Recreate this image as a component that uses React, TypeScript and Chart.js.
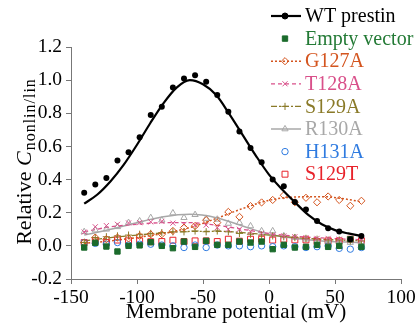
import React, { useEffect, useRef } from "react";
import { Chart, registerables } from "chart.js";
import { drawPoint } from "chart.js/helpers";

Chart.register(...registerables);

// ---------------- DATA ----------------
const voltages = [
  -140, -131.6, -123.2, -114.8, -106.4, -98, -89.6, -81.2, -72.8, -64.4, -56,
  -47.6, -39.2, -30.8, -22.4, -14, -5.6, 2.8, 11.2, 19.6, 28, 36.4, 44.8, 53.2,
  61.6, 70,
];

const wtPrestin = [
  0.32, 0.37, 0.41, 0.515, 0.565, 0.655, 0.79, 0.84, 0.955, 1.01, 1.03, 0.99,
  0.91, 0.81, 0.69, 0.59, 0.505, 0.4, 0.36, 0.265, 0.22, 0.15, 0.107, 0.087,
  0.04, 0.06,
];
const emptyVector = [
  -0.01, 0.018, -0.004, -0.034, 0.0, 0.003, 0.022, 0.0, -0.014, 0.026, -0.006,
  0.03, 0.006, 0.006, 0.026, 0.02, 0.026, -0.02, 0.006, -0.01, -0.006, 0.006,
  -0.006, 0.0, 0.04, -0.006,
];
const g127a = [
  0.02, 0.05, 0.04, 0.05, 0.045, 0.06, 0.07, 0.07, 0.09, 0.11, 0.12, 0.155,
  0.14, 0.205, 0.175, 0.24, 0.262, 0.277, 0.305, 0.263, 0.29, 0.263, 0.298,
  0.277, 0.242, 0.272,
];
const t128a = [
  0.083, 0.115, 0.122, 0.13, 0.138, 0.14, 0.145, 0.148, 0.137, 0.13, 0.125,
  0.125, 0.11, 0.1, 0.1, 0.085, 0.075, 0.065, 0.06, 0.055, 0.05, 0.045, 0.045,
  0.04, 0.04, 0.035,
];
const s129a = [
  0.02, 0.05, 0.055, 0.06, 0.065, 0.07, 0.075, 0.08, 0.085, 0.085, 0.09, 0.085,
  0.09, 0.085, 0.075, 0.07, 0.065, 0.06, 0.055, 0.05, 0.045, 0.04, 0.035, 0.035,
  0.03, 0.03,
];
const r130a = [
  0.085, 0.095, 0.1, 0.115, 0.14, 0.15, 0.17, 0.155, 0.198, 0.17, 0.188, 0.165,
  0.16, 0.135, 0.14, 0.12, 0.09, 0.09, 0.06, 0.05, 0.04, 0.03, 0.03, 0.025,
  0.02, 0.025,
];
const h131a = [
  0.02, 0.015, 0.01, 0.02, 0.005, 0.01, 0.01, 0.005, 0.0, -0.01, 0.005, -0.01,
  0.005, 0.0, 0.0, -0.005, 0.0, -0.005, 0.0, -0.005, -0.01, -0.005, 0.0,
  -0.015, -0.02, -0.01,
];
const s129t = [
  0.02, 0.03, 0.02, 0.035, 0.03, 0.03, 0.025, 0.026, 0.034, 0.026, 0.03, 0.03,
  0.026, 0.04, 0.028, 0.04, 0.04, 0.035, 0.04, 0.036, 0.036, 0.026, 0.03, 0.03,
  0.04, 0.03,
];

// fitted curves
const wtFitVoltages = [
  -140, -130, -120, -110, -100, -90, -80, -70, -60, -50, -40, -30, -20, -10, 0,
  10, 20, 30, 40, 50, 60, 70,
];
const wtFit = [
  0.255, 0.31, 0.39, 0.49, 0.61, 0.74, 0.86, 0.955, 1.0, 0.975, 0.91, 0.795,
  0.67, 0.545, 0.43, 0.34, 0.26, 0.185, 0.13, 0.095, 0.075, 0.06,
];
const fitVoltages = [-140, -120, -100, -80, -60, -40, -20, 0, 20, 40, 60, 70];
const g127aFit = [0.015, 0.03, 0.05, 0.075, 0.11, 0.165, 0.225, 0.275, 0.295, 0.297, 0.28, 0.265];
const t128aFit = [0.085, 0.115, 0.13, 0.14, 0.14, 0.125, 0.1, 0.075, 0.058, 0.048, 0.04, 0.037];
const s129aFit = [0.03, 0.05, 0.065, 0.078, 0.087, 0.088, 0.08, 0.065, 0.05, 0.04, 0.033, 0.03];
const r130aFit = [0.065, 0.1, 0.14, 0.175, 0.19, 0.17, 0.12, 0.07, 0.045, 0.03, 0.023, 0.02];

const seriesNames = [
  "WT prestin",
  "Empty vector",
  "G127A",
  "T128A",
  "S129A",
  "R130A",
  "H131A",
  "S129T",
];
const xTicks = [-150, -100, -50, 0, 50, 100];
const yTicks = [-0.2, 0.0, 0.2, 0.4, 0.6, 0.8, 1.0, 1.2];

// ---------------- STYLE ----------------
const FONT = "'Liberation Serif', 'Times New Roman', serif";
const C = {
  wt: "#000000",
  empty: "#1b6b2c",
  emptyText: "#237a35",
  g127a: "#d4551f",
  t128a: "#d9508a",
  s129a: "#8a7a28",
  r130a: "#a8a8a8",
  h131a: "#2f7be0",
  s129t: "#e8232b",
};

type Style = {
  color: string;
  text: string;
  point: string;
  radius: number;
  fill: boolean;
  dash: number[] | null; // null = no line
  lineWidth: number;
};

const styles: Style[] = [
  { color: C.wt, text: C.wt, point: "circle", radius: 3, fill: true, dash: [], lineWidth: 2.2 },
  { color: C.empty, text: C.emptyText, point: "rect", radius: 3.8, fill: true, dash: null, lineWidth: 1 },
  { color: C.g127a, text: C.g127a, point: "rectRot", radius: 3.6, fill: false, dash: [2, 2], lineWidth: 1.5 },
  { color: C.t128a, text: C.t128a, point: "crossRot", radius: 3.6, fill: false, dash: [4, 3], lineWidth: 1.3 },
  { color: C.s129a, text: C.s129a, point: "cross", radius: 3.6, fill: false, dash: [6, 2, 2, 2], lineWidth: 1.3 },
  { color: C.r130a, text: C.r130a, point: "triangle", radius: 3.6, fill: false, dash: [], lineWidth: 1.5 },
  { color: C.h131a, text: C.h131a, point: "circle", radius: 3.2, fill: false, dash: null, lineWidth: 1 },
  { color: C.s129t, text: C.s129t, point: "rect", radius: 4.2, fill: false, dash: null, lineWidth: 1 },
];

const pts = (xs: number[], ys: number[]) => xs.map((x, i) => ({ x, y: ys[i] }));

const legendPlugin = {
  id: "customLegend",
  afterDraw(chart: any) {
    const ctx = chart.ctx as CanvasRenderingContext2D;
    ctx.save();
    const x0 = 271;
    const x1 = 301;
    const textX = 305;
    const y0 = 16;
    const dy = 22.6;
    ctx.font = `20px ${FONT}`;
    ctx.textBaseline = "middle";
    ctx.textAlign = "left";
    seriesNames.forEach((name, i) => {
      const s = styles[i];
      const y = y0 + i * dy;
      if (s.dash) {
        ctx.beginPath();
        ctx.setLineDash(s.dash);
        ctx.strokeStyle = s.color;
        ctx.lineWidth = s.lineWidth;
        ctx.moveTo(x0, y);
        ctx.lineTo(x1, y);
        ctx.stroke();
        ctx.setLineDash([]);
      }
      ctx.fillStyle = s.fill ? s.color : "rgba(0,0,0,0)";
      ctx.strokeStyle = s.color;
      ctx.lineWidth = 1;
      drawPoint(ctx, { pointStyle: s.point, radius: s.radius, rotation: 0, borderWidth: 1 } as any, (x0 + x1) / 2 - 1, y);
      ctx.fillStyle = s.text;
      ctx.fillText(name, textX, y + 1);
    });
    ctx.restore();
  },
};

const yTitlePlugin = {
  id: "yTitle",
  afterDraw(chart: any) {
    const ctx = chart.ctx as CanvasRenderingContext2D;
    ctx.save();
    const cx = 31;
    const cy = 162;
    ctx.translate(cx, cy);
    ctx.rotate(-Math.PI / 2);
    ctx.fillStyle = "#000";
    ctx.textBaseline = "alphabetic";
    const main = `22px ${FONT}`;
    const ital = `italic 22px ${FONT}`;
    const sub = `16px ${FONT}`;
    const p1 = "Relative ";
    const p2 = "C";
    const p3 = "nonlin/lin";
    (ctx as any).letterSpacing = "0px";
    ctx.font = main;
    const w1 = ctx.measureText(p1).width;
    ctx.font = ital;
    const w2 = ctx.measureText(p2).width;
    ctx.font = sub;
    (ctx as any).letterSpacing = "1px";
    const w3 = ctx.measureText(p3).width;
    (ctx as any).letterSpacing = "0px";
    let x = -(w1 + w2 + w3) / 2;
    ctx.font = main;
    ctx.fillText(p1, x, 0);
    x += w1;
    ctx.font = ital;
    ctx.fillText(p2, x, 0);
    x += w2 + 1;
    ctx.font = sub;
    (ctx as any).letterSpacing = "1px";
    ctx.fillText(p3, x, 4);
    ctx.restore();
  },
};

export default function App() {
  const ref = useRef<HTMLCanvasElement | null>(null);

  useEffect(() => {
    document.body.style.margin = "0";
    const canvas = ref.current;
    if (!canvas) return;

    const scatterSeries = [wtPrestin, emptyVector, g127a, t128a, s129a, r130a, h131a, s129t];
    const scatterSets = scatterSeries.map((vals, i) => {
      const s = styles[i];
      return {
        type: "scatter" as const,
        label: seriesNames[i],
        data: pts(voltages, vals),
        showLine: false,
        pointStyle: s.point,
        pointRadius: s.radius,
        pointBorderWidth: i === 0 ? 0 : 1,
        pointBackgroundColor: s.fill ? s.color : "rgba(0,0,0,0)",
        pointBorderColor: s.color,
        borderColor: s.color,
        order: i === 0 ? 0 : 5,
      };
    });

    const fits: [number[], number[], number][] = [
      [wtFitVoltages, wtFit, 0],
      [fitVoltages, g127aFit, 2],
      [fitVoltages, t128aFit, 3],
      [fitVoltages, s129aFit, 4],
      [fitVoltages, r130aFit, 5],
    ];
    const fitSets = fits.map(([xs, ys, i]) => {
      const s = styles[i];
      return {
        type: "line" as const,
        label: seriesNames[i] + " fit",
        data: pts(xs, ys),
        borderColor: s.color,
        borderWidth: s.lineWidth,
        borderDash: s.dash || [],
        pointRadius: 0,
        cubicInterpolationMode: "monotone" as const,
        fill: false,
        order: i === 0 ? 1 : 6,
      };
    });

    const chart = new Chart(canvas, {
      type: "scatter",
      data: { datasets: [...scatterSets, ...fitSets] as any },
      options: {
        animation: false,
        responsive: false,
        maintainAspectRatio: false,
        layout: { padding: { left: 0, right: 17, top: 47, bottom: 0 } },
        plugins: {
          legend: { display: false },
          tooltip: { enabled: false },
        },
        scales: {
          x: {
            type: "linear",
            min: -150,
            max: 100,
            afterBuildTicks: (scale: any) => {
              scale.ticks = xTicks.map((v) => ({ value: v }));
            },
            afterFit: (scale: any) => {
              scale.height = 46;
            },
            grid: {
              drawOnChartArea: false,
              drawTicks: true,
              tickLength: 5,
              color: "#777",
            },
            border: { display: true, color: "#777", width: 1 },
            ticks: {
              color: "#000",
              font: { family: FONT, size: 19.5 },
              padding: 2,
              maxRotation: 0,
              autoSkip: false,
              callback: (v: any) => String(v),
            },
            title: {
              display: true,
              text: "Membrane potential (mV)",
              color: "#000",
              font: { family: FONT, size: 21 },
              padding: { top: 0, bottom: 0 },
            },
          },
          y: {
            type: "linear",
            min: -0.2,
            max: 1.2,
            afterBuildTicks: (scale: any) => {
              scale.ticks = yTicks.map((v) => ({ value: v }));
            },
            afterFit: (scale: any) => {
              scale.width = 71;
            },
            grid: {
              drawOnChartArea: false,
              drawTicks: true,
              tickLength: 5,
              color: "#777",
            },
            border: { display: true, color: "#777", width: 1 },
            ticks: {
              color: "#000",
              font: { family: FONT, size: 19.5 },
              padding: 4,
              autoSkip: false,
              callback: (v: any) => Number(v).toFixed(1),
            },
          },
        },
      },
      plugins: [legendPlugin, yTitlePlugin],
    });

    return () => chart.destroy();
  }, []);

  return (
    <div style={{ width: 418, height: 325 }}>
      <canvas ref={ref} width={418} height={325} style={{ display: "block" }} />
    </div>
  );
}
